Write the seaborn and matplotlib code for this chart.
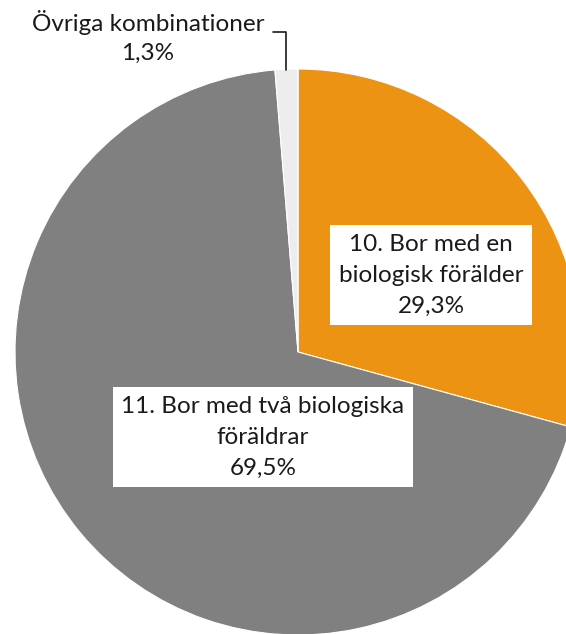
import matplotlib
matplotlib.use("Agg")
import matplotlib.pyplot as plt
import seaborn as sns

sns.set_theme(style="white")
plt.rcParams['font.family'] = ['Lato', 'DejaVu Sans']

categories = ["10. Bor med en\nbiologisk förälder",
              "11. Bor med två biologiska\nföräldrar",
              "Övriga kombinationer"]
values = [29.3, 69.5, 1.3]
value_labels = ["29,3%", "69,5%", "1,3%"]
colors = ["#EC9314", "#808080", "#EDEDED"]

W, H = 566, 634
fig = plt.figure(figsize=(W / 100, H / 100), dpi=100)
ax = fig.add_axes([0, 0, 1, 1])

cx, cy, r = 298, H - 352, 283
ax.pie(values, colors=colors, startangle=90, counterclock=False,
       center=(cx, cy), radius=r, frame=True,
       wedgeprops=dict(linewidth=0.8, edgecolor="white"))
ax.set_xlim(0, W)
ax.set_ylim(0, H)
ax.set_aspect('equal')
ax.axis('off')

fs = 17.5
ls = 1.58
tc = "#1a1a1a"
ax.text(431, H - 275, f"{categories[0]}\n{value_labels[0]}", ha="center", va="center",
        multialignment="center", fontsize=fs, color=tc, linespacing=ls,
        bbox=dict(boxstyle="square,pad=0.35", facecolor="white", edgecolor="none"))
ax.text(263, H - 437, f"{categories[1]}\n{value_labels[1]}", ha="center", va="center",
        multialignment="center", fontsize=fs, color=tc, linespacing=ls,
        bbox=dict(boxstyle="square,pad=0.35", facecolor="white", edgecolor="none"))
ax.text(148, H - 37, f"{categories[2]}\n{value_labels[2]}", ha="center", va="center",
        multialignment="center", fontsize=fs, color=tc, linespacing=1.5)
ax.plot([273, 286, 286], [H - 32, H - 32, H - 70], color=tc, lw=1.2)

fig.savefig("out.png", dpi=100)
